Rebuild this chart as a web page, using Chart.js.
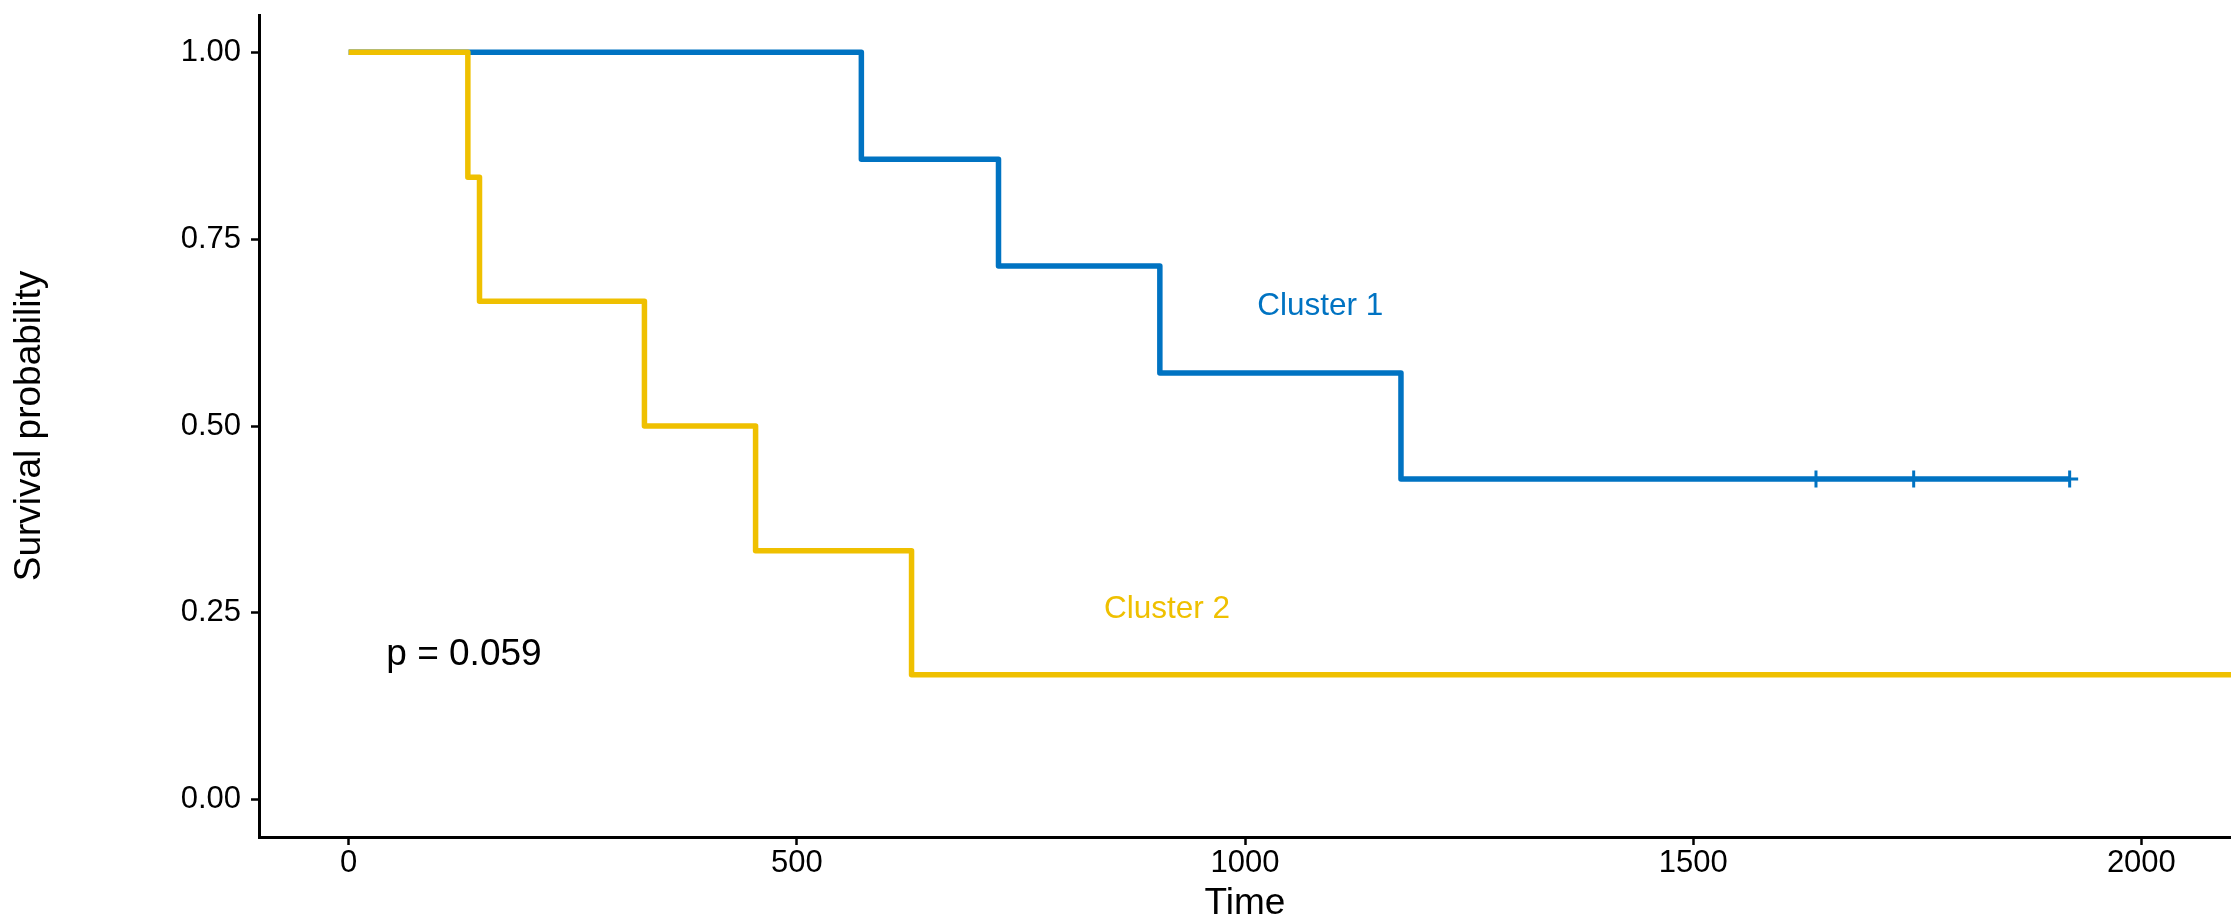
<!DOCTYPE html>
<html>
<head>
<meta charset="utf-8">
<script src="https://cdn.jsdelivr.net/npm/chart.js@4.4.1/dist/chart.umd.min.js"></script>
<style>
  html, body { margin: 0; padding: 0; background: #ffffff; overflow: hidden; }
  #wrap { width: 2231px; height: 922px; overflow: hidden; }
  #km { display: block; }
</style>
</head>
<body>
<div id="wrap"><canvas id="km" width="2231" height="922"></canvas></div>
<script>
// Kaplan-Meier step data per cluster (time, survival probability)
const cluster1Times = [0, 572, 725, 905, 1174, 1920];
const cluster1Surv = [1.0, 0.857, 0.714, 0.571, 0.429, 0.429];
// censored observations in cluster 1
const cluster1CensorTimes = [1637, 1746, 1920];
const cluster1CensorSurv = [0.429, 0.429, 0.429];
const cluster2Times = [0, 133, 146, 330, 454, 628, 2100];
const cluster2Surv = [1.0, 0.833, 0.667, 0.5, 0.333, 0.167, 0.167];

const xTicks = [0, 500, 1000, 1500, 2000];
const xTickLabels = ['0', '500', '1000', '1500', '2000'];
const yTicks = [0, 0.25, 0.5, 0.75, 1];
const yTickLabels = ['0.00', '0.25', '0.50', '0.75', '1.00'];

const seriesNames = ['Cluster 1', 'Cluster 2'];
const seriesColors = ['#0073C2', '#EFC000'];
const seriesLabelX = [1084, 913];
const seriesLabelY = [0.66, 0.255];
const pValueText = 'p = 0.059';
const pValueX = 42;
const pValueY = 0.194;

const FONT = '"Liberation Sans", Arial, Helvetica, sans-serif';

const toPoints = (xs, ys) => xs.map((t, i) => ({ x: t, y: ys[i] }));

// in-plot text: curve names and the log-rank p-value
const plotText = {
  id: 'plotText',
  afterDatasetsDraw(chart) {
    const { ctx } = chart;
    const x = chart.scales.x, y = chart.scales.y;
    ctx.save();
    ctx.textBaseline = 'middle';
    ctx.textAlign = 'center';
    ctx.font = '31.5px ' + FONT;
    seriesNames.forEach((name, i) => {
      ctx.fillStyle = seriesColors[i];
      ctx.fillText(name, x.getPixelForValue(seriesLabelX[i]), y.getPixelForValue(seriesLabelY[i]));
    });
    ctx.textAlign = 'left';
    ctx.font = '37px ' + FONT;
    ctx.fillStyle = '#000000';
    ctx.fillText(pValueText, x.getPixelForValue(pValueX), y.getPixelForValue(pValueY));
    ctx.restore();
  }
};

new Chart(document.getElementById('km'), {
  type: 'line',
  data: {
    datasets: [
      {
        label: seriesNames[1],
        data: toPoints(cluster2Times, cluster2Surv),
        borderColor: seriesColors[1],
        borderWidth: 5.5,
        stepped: 'before',
        pointRadius: 0,
        fill: false,
        borderJoinStyle: 'round',
        order: 0
      },
      {
        label: seriesNames[0],
        data: toPoints(cluster1Times, cluster1Surv),
        borderColor: seriesColors[0],
        borderWidth: 5.5,
        stepped: 'before',
        pointRadius: 0,
        fill: false,
        borderJoinStyle: 'round',
        order: 2
      },
      {
        label: seriesNames[0] + ' censored',
        type: 'scatter',
        data: toPoints(cluster1CensorTimes, cluster1CensorSurv),
        showLine: false,
        pointStyle: 'cross',
        pointRadius: 8.5,
        pointBorderWidth: 3,
        borderColor: seriesColors[0],
        backgroundColor: seriesColors[0],
        order: 1
      }
    ]
  },
  options: {
    responsive: false,
    animation: false,
    devicePixelRatio: 1,
    layout: { autoPadding: false, padding: { top: 15, left: 0, right: 0, bottom: 0 } },
    plugins: {
      legend: { display: false },
      tooltip: { enabled: false }
    },
    scales: {
      x: {
        type: 'linear',
        min: -100,
        max: 2100,
        afterBuildTicks: s => { s.ticks = xTicks.map(v => ({ value: v })); },
        ticks: {
          callback: v => xTickLabels[xTicks.indexOf(v)],
          font: { family: FONT, size: 31 },
          color: '#000000',
          padding: 0,
          maxRotation: 0,
          autoSkip: false
        },
        grid: {
          display: true,
          drawOnChartArea: false,
          drawTicks: true,
          tickLength: 8,
          tickWidth: 2.5,
          tickColor: '#000000',
          color: '#000000'
        },
        border: { display: true, color: '#000000', width: 3 },
        title: {
          display: true,
          text: 'Time',
          color: '#000000',
          font: { family: FONT, size: 37, lineHeight: 1.0 },
          padding: { top: 0, bottom: 0 }
        },
        afterFit: s => { s.height = 85; s.paddingLeft = 0; s.paddingRight = 0; }
      },
      y: {
        type: 'linear',
        min: -0.05,
        max: 1.05,
        afterBuildTicks: s => { s.ticks = yTicks.map(v => ({ value: v })); },
        ticks: {
          callback: v => yTickLabels[yTicks.indexOf(v)],
          font: { family: FONT, size: 31 },
          color: '#000000',
          padding: 10,
          autoSkip: false
        },
        grid: {
          display: true,
          drawOnChartArea: false,
          drawTicks: true,
          tickLength: 8,
          tickWidth: 2.5,
          tickColor: '#000000',
          color: '#000000'
        },
        border: { display: true, color: '#000000', width: 3 },
        title: {
          display: true,
          text: 'Survival probability',
          color: '#000000',
          font: { family: FONT, size: 37, lineHeight: 1.2 },
          padding: { top: 8, bottom: 0 }
        },
        afterFit: s => { s.width = 259; s.paddingTop = 0; s.paddingBottom = 0; }
      }
    }
  },
  plugins: [plotText]
});
</script>
</body>
</html>
